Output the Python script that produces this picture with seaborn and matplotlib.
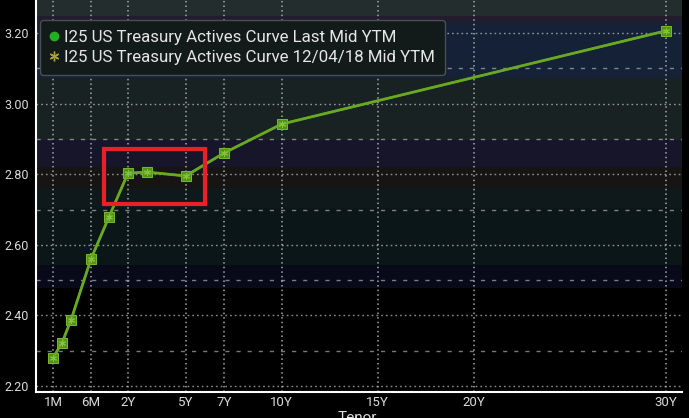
import numpy as np
import pandas as pd
import matplotlib
matplotlib.use("Agg")
import matplotlib.pyplot as plt
import seaborn as sns
from matplotlib.lines import Line2D
from matplotlib.patches import Rectangle
from matplotlib.ticker import FixedLocator

# ---- data ----
tenor_labels = ["1M", "2M", "3M", "6M", "1Y", "2Y", "3Y", "5Y", "7Y", "10Y", "30Y"]
tenor_years = [1/12, 2/12, 0.25, 0.5, 1, 2, 3, 5, 7, 10, 30]
ytm_last = [2.280, 2.322, 2.387, 2.560, 2.679, 2.803, 2.806, 2.795, 2.860, 2.942, 3.206]
ytm_prev = [2.280, 2.322, 2.387, 2.560, 2.679, 2.803, 2.806, 2.795, 2.860, 2.942, 3.206]
xtick_years = [1/12, 0.5, 2, 5, 7, 10, 15, 20, 30]
xtick_labels = ["1M", "6M", "2Y", "5Y", "7Y", "10Y", "15Y", "20Y", "30Y"]
ytick_vals = [2.20, 2.40, 2.60, 2.80, 3.00, 3.20]
ytick_minor = [2.30, 2.50, 2.70, 2.90, 3.10]
legend_labels = ["I25 US Treasury Actives Curve Last Mid YTM",
                 "I25 US Treasury Actives Curve 12/04/18 Mid YTM"]

df = pd.DataFrame({"tenor": tenor_years, "last": ytm_last, "prev": ytm_prev})

sns.set_style("dark")
plt.rcParams["font.family"] = ["Roboto", "DejaVu Sans"]

fig = plt.figure(figsize=(6.89, 4.18), dpi=100, facecolor="black")
ax = fig.add_axes([36/689, 26/418, 646/689, 392/418])
ax.set_facecolor("black")

# tenor scale (Bloomberg-style stretched short end)
k_yr = np.array([-1, 1/12, 2/12, 0.25, 0.5, 1, 2, 40])
k_px = np.array([-64, 53, 62, 71, 91, 109, 128, 857.6])
ax.set_xscale("function", functions=(lambda v: np.interp(v, k_yr, k_px),
                                     lambda v: np.interp(v, k_px, k_yr)))

YLO, YHI = 2.183, 3.2935

# background bands
bands = [(3.248, 3.30, "#232d2d"), (3.228, 3.248, "#221d2e"), (3.072, 3.228, "#142137"),
         (2.897, 3.072, "#182222"), (2.820, 2.897, "#17152a"), (2.760, 2.820, "#171514"),
         (2.704, 2.760, "#0f191b"), (2.543, 2.704, "#0b1618"), (2.478, 2.543, "#090a19")]
for lo, hi, c in bands:
    ax.axhspan(lo, hi, color=c, lw=0, zorder=0)

# vertical grid
for xv in xtick_years:
    ax.plot([xv, xv], [YLO, YHI], color="#a8a8a8", lw=1.1, ls=(0, (1.0, 2.0)),
            zorder=2)

# series
sns.lineplot(data=df, x="tenor", y="prev", ax=ax, color="#5e9e1e", lw=2,
             marker="s", markersize=6.5, markeredgecolor="#78b828",
             markerfacecolor="#4f9416", zorder=3)
sns.lineplot(data=df, x="tenor", y="last", ax=ax, color="#6aaa22", lw=1.6,
             marker=(6, 2, 0), markersize=5, markeredgecolor="#8ac040", zorder=4)

ax.set_xlim(-0.074, 30.85)
ax.set_ylim(YLO, YHI)

# highlight box
ax.add_patch(Rectangle((0.1053, 0.4796), 0.1563, 0.1404, transform=ax.transAxes,
                       fill=False, ec="#e8202a", lw=3, zorder=6))

# ticks
ax.set_xticks(xtick_years)
ax.set_xticklabels(xtick_labels)
ax.set_yticks(ytick_vals)
ax.set_yticklabels([f"{v:.2f}" for v in ytick_vals])
ax.yaxis.set_minor_locator(FixedLocator(ytick_minor))
ax.tick_params(axis="x", colors="white", labelcolor="#dcdcdc", length=0, pad=3,
               labelsize=9.5)
ax.tick_params(axis="y", which="major", colors="white", labelcolor="#dcdcdc",
               direction="out", length=4, width=2, pad=1, labelsize=9)
ax.tick_params(axis="y", which="minor", length=0)
ax.set_xlabel("")
ax.set_ylabel("")

# horizontal grid
ax.set_axisbelow(False)
ax.grid(False, axis="x")
ax.grid(True, axis="y", which="major", color="#c8c8c8", lw=1, ls=(0, (1.2, 2.2)),
        alpha=0.7)
ax.grid(True, axis="y", which="minor", color="#c8c8c8", lw=1, ls=(0, (3, 5)),
        alpha=0.6)

for s in ["top", "right"]:
    ax.spines[s].set_visible(False)
for s in ["left", "bottom"]:
    ax.spines[s].set_color("white")
    ax.spines[s].set_linewidth(1.5)
    ax.spines[s].set_zorder(5)

fig.text(357/689, 7/418, "Tenor", color="#dcdcdc", fontsize=11, ha="center",
         va="top")

handles = [Line2D([], [], ls="none", marker="o", color="#22b022", markersize=6),
           Line2D([], [], ls="none", marker=(6, 2, 0), color="#a8a040", markersize=7)]
leg = ax.legend(handles, legend_labels, loc="upper left",
                bbox_to_anchor=(40/689, 1 - 20/418), bbox_transform=fig.transFigure,
                frameon=True, facecolor="#121a1a", edgecolor="#4a4f4f", framealpha=1,
                fontsize=12.2, labelcolor="#e6e6e6", handlelength=0.45,
                handletextpad=0.35, borderpad=0.6, labelspacing=0.3,
                borderaxespad=0, fancybox=True)
leg.set_zorder(10)

fig.savefig("out.png", dpi=100, facecolor="black")
